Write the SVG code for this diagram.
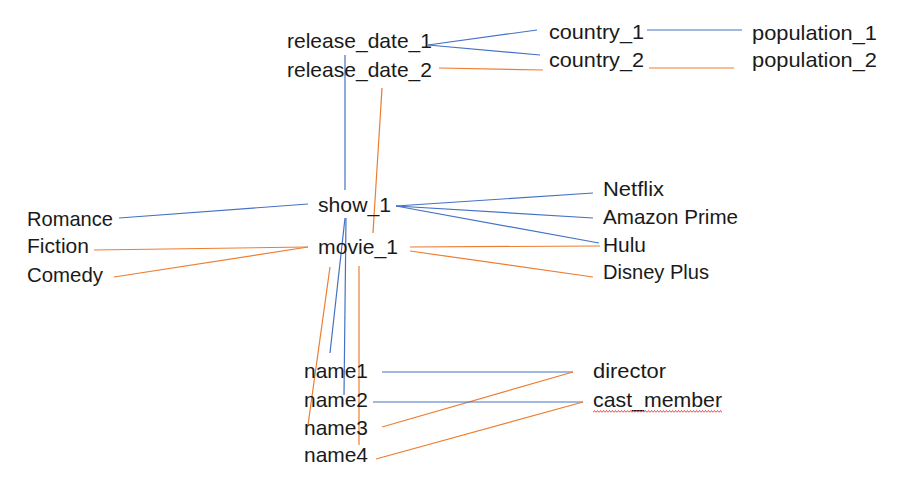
<svg xmlns="http://www.w3.org/2000/svg" width="898" height="492" viewBox="0 0 898 492">
<style>
text{font-family:"Liberation Sans",Arial,sans-serif;font-size:21px;fill:#1a1a1a}
.b{stroke:#4472C4;stroke-width:1.2;fill:none}
.o{stroke:#ED7D31;stroke-width:1.2;fill:none}
</style>
<defs>
<pattern id="squig" x="593" y="410" width="3" height="3" patternUnits="userSpaceOnUse">
<path d="M0 2.5 L1.5 0.5 L3 2.5" fill="none" stroke="#E02020" stroke-width="0.8"/>
</pattern>
</defs>
<rect width="898" height="492" fill="#ffffff"/>
<g id="connectors">
<line class="b" x1="428" y1="45" x2="537" y2="30"/>
<line class="b" x1="428" y1="45" x2="540" y2="55"/>
<line class="o" x1="439" y1="68" x2="543" y2="70"/>
<line class="b" x1="647" y1="30" x2="742" y2="30"/>
<line class="o" x1="649" y1="68" x2="734" y2="68"/>
<line class="b" x1="345" y1="55" x2="345" y2="190"/>
<line class="o" x1="382" y1="88" x2="373" y2="233"/>
<line class="b" x1="119" y1="218" x2="308" y2="204"/>
<line class="o" x1="94" y1="250" x2="308" y2="247"/>
<line class="o" x1="114" y1="277" x2="308" y2="247"/>
<line class="b" x1="396" y1="206" x2="593" y2="193"/>
<line class="b" x1="396" y1="206" x2="593" y2="218"/>
<line class="b" x1="396" y1="206" x2="599" y2="243"/>
<line class="o" x1="410" y1="247" x2="600" y2="246"/>
<line class="o" x1="410" y1="251" x2="593" y2="277"/>
<line class="b" x1="345" y1="218" x2="330" y2="353"/>
<line class="b" x1="346" y1="218" x2="344" y2="395"/>
<line class="o" x1="330" y1="267" x2="308" y2="425"/>
<line class="o" x1="359" y1="266" x2="359" y2="445"/>
<line class="b" x1="382" y1="372" x2="573" y2="372"/>
<line class="o" x1="382" y1="427" x2="573" y2="372"/>
<line class="b" x1="373" y1="402" x2="583" y2="402"/>
<line class="o" x1="376" y1="459" x2="583" y2="402"/>
</g>
<g id="release_date_1"><text x="287" y="48" textLength="145" lengthAdjust="spacingAndGlyphs">release_date_1</text></g>
<g id="release_date_2"><text x="287" y="77" textLength="145" lengthAdjust="spacingAndGlyphs">release_date_2</text></g>
<g id="country_1"><text x="549" y="39" textLength="95" lengthAdjust="spacingAndGlyphs">country_1</text></g>
<g id="country_2"><text x="549" y="67" textLength="95" lengthAdjust="spacingAndGlyphs">country_2</text></g>
<g id="population_1"><text x="752" y="40" textLength="125" lengthAdjust="spacingAndGlyphs">population_1</text></g>
<g id="population_2"><text x="752" y="67" textLength="125" lengthAdjust="spacingAndGlyphs">population_2</text></g>
<g id="show_1"><text x="318" y="212" textLength="73" lengthAdjust="spacingAndGlyphs">show_1</text></g>
<g id="movie_1"><text x="318" y="254" textLength="80" lengthAdjust="spacingAndGlyphs">movie_1</text></g>
<g id="Romance"><text x="27" y="226" textLength="86" lengthAdjust="spacingAndGlyphs">Romance</text></g>
<g id="Fiction"><text x="27" y="253" textLength="62" lengthAdjust="spacingAndGlyphs">Fiction</text></g>
<g id="Comedy"><text x="27" y="282" textLength="76" lengthAdjust="spacingAndGlyphs">Comedy</text></g>
<g id="Netflix"><text x="603" y="196" textLength="61" lengthAdjust="spacingAndGlyphs">Netflix</text></g>
<g id="Amazon_Prime"><text x="603" y="224" textLength="135" lengthAdjust="spacingAndGlyphs">Amazon Prime</text></g>
<g id="Hulu"><text x="603" y="252" textLength="43" lengthAdjust="spacingAndGlyphs">Hulu</text></g>
<g id="Disney_Plus"><text x="603" y="279" textLength="106" lengthAdjust="spacingAndGlyphs">Disney Plus</text></g>
<g id="name1"><text x="304" y="378" textLength="64" lengthAdjust="spacingAndGlyphs">name1</text></g>
<g id="name2"><text x="304" y="407" textLength="64" lengthAdjust="spacingAndGlyphs">name2</text></g>
<g id="name3"><text x="304" y="435" textLength="64" lengthAdjust="spacingAndGlyphs">name3</text></g>
<g id="name4"><text x="304" y="462" textLength="64" lengthAdjust="spacingAndGlyphs">name4</text></g>
<g id="director"><text x="593" y="378" textLength="73" lengthAdjust="spacingAndGlyphs">director</text></g>
<g id="cast_member"><text x="593" y="407" textLength="129" lengthAdjust="spacingAndGlyphs">cast_member</text>
<rect x="593" y="410" width="129" height="3" fill="url(#squig)"/>
</g>
</svg>
